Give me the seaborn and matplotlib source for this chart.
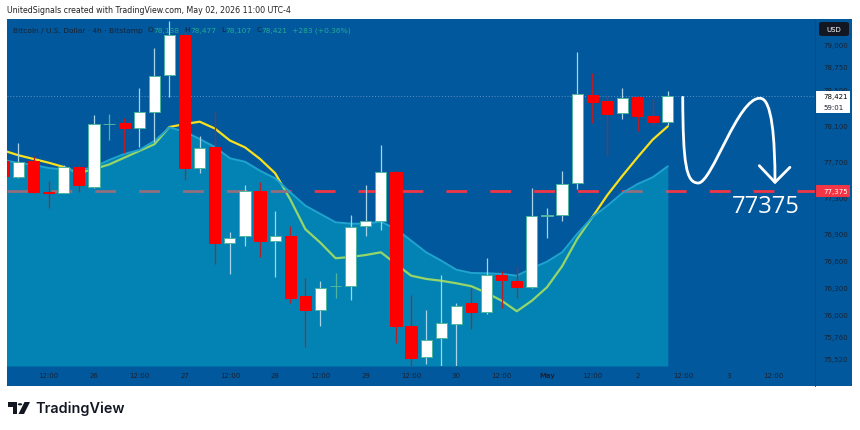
"""Bitcoin / USD 4h candles with moving average band and a sketched 77375 target."""
import matplotlib
matplotlib.use("Agg")
import matplotlib.pyplot as plt
import seaborn as sns
from matplotlib.lines import Line2D
from matplotlib.patches import Rectangle, FancyBboxPatch, Polygon, Circle, PathPatch
from matplotlib.path import Path
from matplotlib.transforms import blended_transform_factory

W, H = 860, 431
BG = "#02589C"
FILL = "#02C6D8"
YELLOW = "#F9E11E"
RED = "#FF0000"
TEXT = "#1B2230"
GREEN_TXT = "#22AB94"

# 4h bars, index 0 = Apr 26 00:00
BAR = list(range(-6, 39))
OPEN = [77708, 77524, 77705, 77365, 77350, 77642, 77420, 78118, 78122, 78067,
        78247, 78657, 79100, 77631, 77856, 76794, 76871, 77373, 76816, 76871,
        76210, 76055, 76318, 76324, 76989, 77044, 77586, 75875, 75532, 75742,
        75904, 76130, 76030, 76443, 76380, 76310, 77099, 77104, 77458, 78435,
        78366, 78233, 78413, 78206, 78138]
HIGH = [77730, 77904, 77763, 77480, 77664, 77672, 78211, 78222, 78177, 78513,
        78956, 79255, 79130, 77982, 78262, 76922, 77442, 77476, 77148, 76989,
        76406, 76373, 76465, 77107, 77439, 77882, 77590, 76225, 76055, 76443,
        76133, 76302, 76631, 76490, 76539, 77406, 77185, 77594, 78911, 78676,
        78421, 78510, 78428, 78391, 78477]
LOW = [77520, 77515, 77350, 77181, 77347, 77358, 77410, 77941, 77790, 77863,
       77918, 78417, 77491, 77575, 76565, 76454, 76767, 76645, 76424, 76130,
       75649, 75882, 76185, 76169, 76878, 76944, 75690, 75439, 75458, 75439,
       75439, 75845, 76011, 76081, 76185, 76300, 76856, 77044, 77395, 78125,
       77757, 78173, 78040, 78096, 78107]
CLOSE = [77535, 77690, 77365, 77350, 77638, 77442, 78114, 78118, 78067, 78244,
         78646, 79100, 77631, 77852, 76797, 76849, 77373, 76819, 76871, 76192,
         76055, 76302, 76318, 76978, 77041, 77583, 75875, 75521, 75727, 75911,
         76096, 76030, 76446, 76387, 76310, 77096, 77110, 77453, 78443, 78355,
         78228, 78406, 78206, 78138, 78421]
MA_FAST = [77821, 77768, 77727, 77686, 77638, 77572, 77616, 77666, 77741, 77816,
           77890, 78081, 78114, 78140, 78065, 77932, 77856, 77727, 77569, 77279,
           76949, 76799, 76628, 76642, 76664, 76694, 76565, 76435, 76399, 76379,
           76351, 76318, 76244, 76158, 76041, 76158, 76307, 76539, 76841, 77082,
           77328, 77542, 77746, 77941, 78089]
MA_AREA = [77716, 77683, 77661, 77627, 77611, 77600, 77638, 77716, 77782, 77827,
           77926, 78076, 78031, 77948, 77860, 77735, 77697, 77597, 77513, 77358,
           77210, 77118, 77026, 77011, 77011, 77033, 76952, 76823, 76694, 76601,
           76501, 76465, 76462, 76454, 76435, 76517, 76590, 76694, 76897, 77082,
           77210, 77351, 77450, 77524, 77646]

TICK_POS = [-3, 0, 3, 6, 9, 12, 15, 18, 21, 24, 27, 30, 33, 36, 39, 42, 45]
TICK_LABELS = ["12:00", "26", "12:00", "27", "12:00", "28", "12:00", "29", "12:00",
               "30", "12:00", "May", "12:00", "2", "12:00", "3", "12:00"]
PRICE_TICKS = [79000, 78750, 78500, 78100, 77700, 77300, 76900, 76600, 76300,
               76000, 75760, 75520]
TARGET = 77375
LAST = 78421
COUNTDOWN = "59:01"

# hand drawn wave (bar index, price) and its arrow head
SKETCH = [(38.99, 78410), (39.01, 77672), (39.21, 77461), (40.02, 77461),
          (40.93, 77461), (42.65, 78413), (44.11, 78399),
          (44.9, 78402), (45.1, 77948), (45.1, 77469)]
ARROW = [(44.06, 77653), (45.1, 77469), (46.09, 77635)]

XMIN, XMAX = -5.76, 47.75
YMIN, YMAX = 75435, 79277


def px(x, y):
    return x / W, 1 - y / H


sns.set_style("white")
plt.rcParams["font.family"] = ["DejaVu Sans"]

fig = plt.figure(figsize=(W / 100, H / 100), dpi=100, facecolor="white")
fig.patches.append(Rectangle(px(7, 387), 845 / W, 367 / H, transform=fig.transFigure,
                             facecolor=BG, edgecolor="none", zorder=-5))
ax = fig.add_axes([7 / W, (H - 367) / H, 808 / W, 347 / H])
ax.set_facecolor(BG)
ax.set_xlim(XMIN, XMAX)
ax.set_ylim(YMIN, YMAX)

# moving average (yellow), target line, then translucent band on top
sns.lineplot(x=BAR, y=MA_FAST, ax=ax, color=YELLOW, linewidth=1.6, zorder=2)
ax.axhline(TARGET, color="#F23645", linewidth=2.0, dashes=(7.5, 8.3), zorder=2)
ax.axhline(LAST, color="#5B8FC7", linewidth=0.7, linestyle=(0, (1, 2)), zorder=2)
ax.fill_between(BAR, MA_AREA, YMIN, color=FILL, alpha=0.4, linewidth=0, zorder=3)
ax.plot(BAR, MA_AREA, color="#1FA3CF", linewidth=1.4, zorder=3)

# candles
for x, o, h, l, c in zip(BAR, OPEN, HIGH, LOW, CLOSE):
    up = c >= o
    wick = "#A9D4E8" if up else "#B3202A"
    if o == c:
        wick = "#4FB59E"
    ax.vlines(x, l, h, color=wick, linewidth=0.9, zorder=4)
    ax.bar(x, abs(c - o), bottom=min(o, c), width=0.74,
           color="white" if up else RED,
           edgecolor=("#4FB59E" if up else RED), linewidth=0.7, zorder=5)

# sketch
verts = SKETCH
codes = [Path.MOVETO] + [Path.CURVE4] * (len(verts) - 1)
ax.add_patch(PathPatch(Path(verts, codes), facecolor="none", edgecolor="white",
                       linewidth=2.0, capstyle="round", zorder=6, clip_on=False))
ax.add_line(Line2D([p[0] for p in ARROW], [p[1] for p in ARROW], color="white",
                   linewidth=2.0, solid_capstyle="round", solid_joinstyle="round", zorder=6))
ax.text(44.5, 77212, f"{TARGET}", color="white", fontsize=17, family="Open Sans",
        ha="center", va="center", zorder=6)

# axes styling
for s in ax.spines.values():
    s.set_visible(False)
ax.yaxis.tick_right()
ax.set_yticks(PRICE_TICKS, labels=[f"{v:,}" for v in PRICE_TICKS])
ax.set_xticks(TICK_POS, labels=TICK_LABELS)
ax.tick_params(axis="y", length=0, pad=6, labelsize=5, labelcolor=TEXT)
ax.tick_params(axis="x", length=0, pad=4.5, labelsize=5, labelcolor=TEXT)
for t in ax.get_xticklabels():
    if t.get_text() == "May":
        t.set_fontweight("bold")
ax.grid(False)
fig.add_artist(Line2D([815 / W, 815 / W], [(H - 387) / H, (H - 20) / H],
                      color="#0B4C86", linewidth=0.8))

# price labels on the axis
dpp = (YMAX - YMIN) / 347
tr = blended_transform_factory(ax.transAxes, ax.transData)
bw = 35 / 808
ax.add_patch(Rectangle((1.0, LAST - 17 * dpp), bw, 22.6 * dpp, transform=tr,
                       facecolor="white", edgecolor="none", clip_on=False, zorder=10))
ax.text(1 + 8 / 808, LAST, f"{LAST:,}", transform=tr, fontsize=5, color="black",
        va="center", ha="left", zorder=11, clip_on=False)
ax.text(1 + 8 / 808, LAST - 11 * dpp, COUNTDOWN, transform=tr, fontsize=5, color=TEXT,
        va="center", ha="left", zorder=11, clip_on=False)
ax.add_patch(Rectangle((1.0, TARGET - 6.5 * dpp), bw, 12.3 * dpp, transform=tr,
                       facecolor="#F23645", edgecolor="none", clip_on=False, zorder=10))
ax.text(1 + 8 / 808, TARGET, f"{TARGET:,}", transform=tr, fontsize=5, color="white",
        va="center", ha="left", zorder=11, clip_on=False)

# USD badge
fig.patches.append(FancyBboxPatch(px(819, 37), 30 / W, 14 / H, transform=fig.transFigure,
                                  boxstyle="round,pad=0,rounding_size=0.004",
                                  facecolor="#131722", edgecolor="none", zorder=5))
fig.text(*px(834, 30), "USD", color="white", fontsize=5, ha="center", va="center", zorder=6)

# headers
fig.text(*px(7, 10.7), "UnitedSignals created with TradingView.com, May 02, 2026 11:00 UTC-4",
         fontsize=5.65, color="#222222", ha="left", va="center")
renderer = fig.canvas.get_renderer()
parts = [("Bitcoin / U.S. Dollar · 4h · Bitstamp", TEXT, 4.5), ("O", TEXT, 0.5),
         ("78,138", GREEN_TXT, 4.5), ("H", TEXT, 0.5), ("78,477", GREEN_TXT, 4.5),
         ("L", TEXT, 0.5), ("78,107", GREEN_TXT, 4.5), ("C", TEXT, 0.5),
         ("78,421", GREEN_TXT, 4.5), ("+283 (+0.36%)", GREEN_TXT, 0)]
x = 13.3
for txt, col, gap in parts:
    t = fig.text(*px(x, 30.5), txt, fontsize=5.4, color=col, ha="left", va="center", zorder=20)
    x += t.get_window_extent(renderer).width + gap

# TradingView logo
fig.patches.append(Polygon([px(8.3, 403), px(17, 403), px(17, 415), px(12.5, 415),
                            px(12.5, 407.5), px(8.3, 407.5)], closed=True,
                           transform=fig.transFigure, facecolor="#131722", edgecolor="none"))
fig.patches.append(Circle(px(20, 405.3), 2.2 / W, transform=fig.transFigure,
                          facecolor="#131722", edgecolor="none"))
fig.patches.append(Polygon([px(24.5, 403), px(30, 403), px(24, 415), px(18.5, 415)], closed=True,
                           transform=fig.transFigure, facecolor="#131722", edgecolor="none"))
fig.text(*px(35, 409), "TradingView", fontsize=10.4, family="Inter", weight="semibold",
         color="#131722", ha="left", va="center")

fig.savefig("out.png", dpi=100, facecolor="white")
